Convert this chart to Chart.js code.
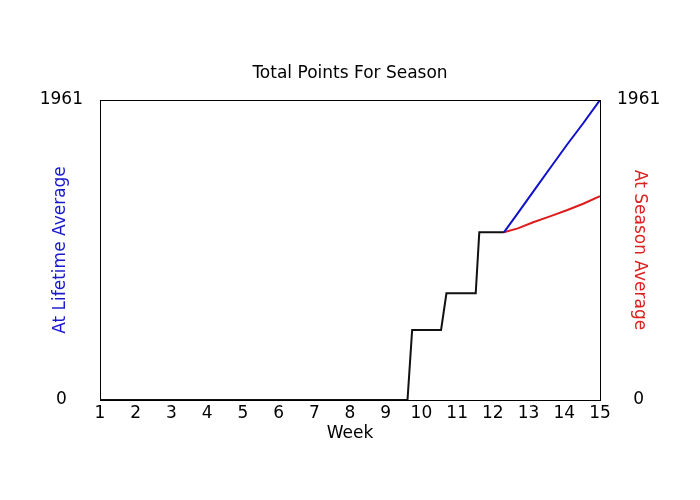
<!DOCTYPE html>
<html>
<head>
<meta charset="utf-8">
<script src="https://cdn.jsdelivr.net/npm/chart.js@4.4.1/dist/chart.umd.min.js"></script>
<style>
  html, body { margin: 0; padding: 0; background: #fff; }
  #wrap { width: 700px; height: 500px; }
</style>
</head>
<body>
<div id="wrap"><canvas id="c" width="700" height="500"></canvas></div>
<script>
// ---- data ----
const chartTitle = "Total Points For Season";
const xTitle = "Week";
const leftTitle = "At Lifetime Average";
const rightTitle = "At Season Average";

const weekTicks = [1, 2, 3, 4, 5, 6, 7, 8, 9, 10, 11, 12, 13, 14, 15];
const yTicks = [0, 1961];

// actual season so far (black)
const actualWeeks  = [1, 9.61, 9.74, 10.55, 10.70, 11.52, 11.62, 12.31];
const actualPoints = [0, 0,    458,  458,   697,   697,   1096,  1096];

// projection at lifetime average (blue)
const lifetimeWeeks  = [12.31, 12.70, 13.13, 13.60, 14.07, 14.53, 15];
const lifetimePoints = [1096,  1222,  1362,  1515,  1667,  1809,  1961];

// projection at season average (red)
const seasonWeeks  = [12.31, 12.70, 13.13, 13.60, 14.07, 14.53, 15];
const seasonPoints = [1096,  1122,  1162,  1200,  1240,  1283,  1333];

const FONT = "DejaVu Sans";
const toXY = (xs, ys) => xs.map((x, i) => ({ x: x, y: ys[i] }));
const plain = v => String(v);

// closes the plot box along its top edge
const frameTop = {
  id: 'frameTop',
  afterDatasetsDraw(chart) {
    const a = chart.chartArea, ctx = chart.ctx;
    ctx.save();
    ctx.strokeStyle = '#000';
    ctx.lineWidth = 1;
    ctx.beginPath();
    ctx.moveTo(a.left, Math.round(a.top) + 0.5);
    ctx.lineTo(a.right, Math.round(a.top) + 0.5);
    ctx.stroke();
    ctx.restore();
  }
};

new Chart(document.getElementById('c'), {
  type: 'scatter',
  data: {
    datasets: [
      { label: 'Actual', data: toXY(actualWeeks, actualPoints), showLine: true,
        borderColor: '#111', borderWidth: 2, pointRadius: 0, tension: 0, yAxisID: 'y' },
      { label: leftTitle, data: toXY(lifetimeWeeks, lifetimePoints), showLine: true,
        borderColor: '#1010cc', borderWidth: 2, pointRadius: 0, tension: 0, yAxisID: 'y' },
      { label: rightTitle, data: toXY(seasonWeeks, seasonPoints), showLine: true,
        borderColor: '#dd1c1c', borderWidth: 2, pointRadius: 0, tension: 0, yAxisID: 'y' }
    ]
  },
  options: {
    responsive: false,
    animation: false,
    devicePixelRatio: 1,
    layout: { padding: 0 },
    plugins: {
      legend: { display: false },
      tooltip: { enabled: false },
      title: {
        display: true, text: chartTitle, color: '#000',
        font: { family: FONT, size: 17, weight: 'normal' },
        padding: { top: 63.5, bottom: 16.1 }
      }
    },
    scales: {
      x: {
        type: 'linear', position: 'bottom', min: 1, max: 15,
        afterBuildTicks: s => { s.ticks = weekTicks.map(v => ({ value: v })); },
        afterFit: s => { s.height = 100; },
        grid: { display: false, drawTicks: false },
        border: { display: true, color: '#000', width: 1 },
        ticks: { color: '#000', padding: 3, maxRotation: 0, autoSkip: false, callback: plain,
                 font: { family: FONT, size: 17 } },
        title: { display: true, text: xTitle, color: '#000',
                 font: { family: FONT, size: 17 }, padding: { top: 0, bottom: 56 } }
      },
      y: {
        type: 'linear', position: 'left', min: 0, max: 1961,
        afterBuildTicks: s => { s.ticks = yTicks.map(v => ({ value: v })); },
        afterFit: s => { s.width = 100; },
        grid: { display: false, drawTicks: false },
        border: { display: true, color: '#000', width: 1 },
        ticks: { color: '#000', padding: 17, crossAlign: 'center', callback: plain,
                 font: { family: FONT, size: 17 } },
        title: { display: true, text: leftTitle, color: '#1a1acc',
                 font: { family: FONT, size: 17 }, padding: { top: 50, bottom: 0 } }
      },
      y2: {
        type: 'linear', position: 'right', min: 0, max: 1961,
        afterBuildTicks: s => { s.ticks = yTicks.map(v => ({ value: v })); },
        afterFit: s => { s.width = 100; },
        grid: { display: false, drawTicks: false },
        border: { display: true, color: '#000', width: 1 },
        ticks: { color: '#000', padding: 17, crossAlign: 'center', callback: plain,
                 font: { family: FONT, size: 17 } },
        title: { display: true, text: rightTitle, color: '#dd2222',
                 font: { family: FONT, size: 17 }, padding: { top: 50, bottom: 0 } }
      }
    }
  },
  plugins: [frameTop]
});
</script>
</body>
</html>
